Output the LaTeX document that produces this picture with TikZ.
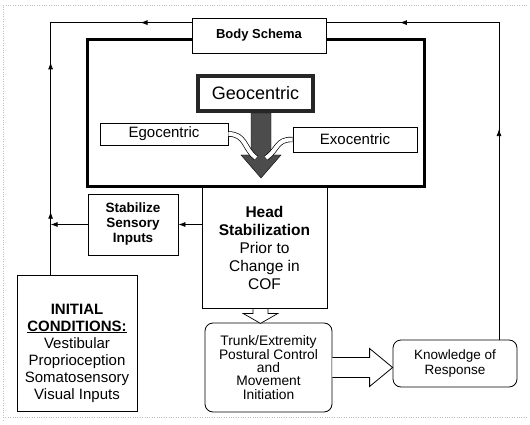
\documentclass[tikz,border=0pt]{standalone}
\usepackage{fontspec}
\setmainfont{Liberation Sans}
\usetikzlibrary{arrows.meta,calc,decorations.markings}

\begin{document}
\begin{tikzpicture}[x=1pt,y=-1pt,
    box/.style={draw, fill=white, line width=0.8pt, align=center, inner sep=0pt},
    roundbox/.style={box, rounded corners=8pt},
    flow/.style={line width=0.8pt},
    tip/.style={-{Latex[length=7pt,width=5pt]}, line width=0.8pt}]
    \useasboundingbox (0,0) rectangle (530,425);

    % Scan frame
    \draw[gray!50, dotted] (3,420) -- (3,5) -- (528,5);
    \draw[gray!50, dotted] (3,417) -- (528,417);

    % Thick frame round the reference frames
    \draw[line width=3pt] (87.5,39.5) rectangle (424.5,186.5);

    % Boxes
    \node[box, minimum width=134pt, minimum height=35pt,
          font=\bfseries\fontsize{13}{15}\selectfont] (body) at (259,35.5) {Body Schema};
    \node[box, minimum width=128pt, minimum height=22pt,
          font=\fontsize{15}{18}\selectfont] (ego) at (164,134) {Egocentric};
    \node[box, minimum width=124pt, minimum height=25pt,
          font=\fontsize{15}{18}\selectfont] (exo) at (355,139.5) {Exocentric};

    % Big down arrow under Geocentric
    \coordinate (gtop) at (251,113);
    \draw[fill=black!70] (gtop) -- ++(20,0) -- ++(0,42) -- ++(10,0) -- ++(-20,23)
        -- ++(-20,-23) -- ++(10,0) -- cycle;

    % Curved arrows joining the big arrow
    \draw[double=white, double distance=4pt, line width=0.7pt]
        (ego.east) .. controls (246,134) and (244,149) .. (256,158);
    \draw[double=white, double distance=4pt, line width=0.7pt]
        (exo.west) .. controls (276,139) and (278,150) .. (266,158);

    \node[box, draw=black!85, line width=4pt, minimum width=115pt, minimum height=35pt,
          font=\fontsize{18}{21}\selectfont] (geo) at (255.5,93.5) {Geocentric};

    \node[box, minimum width=125pt, minimum height=121pt,
          font=\fontsize{15.5}{18}\selectfont] (head) at (264.5,247.5)
          {\textbf{Head}\\\textbf{Stabilization}\\Prior to\\Change in\\COF};
    \node[box, minimum width=90pt, minimum height=61pt,
          font=\bfseries\fontsize{13.5}{15}\selectfont] (stab) at (133,224.5)
          {Stabilize\\Sensory\\Inputs};
    \node[box, minimum width=120pt, minimum height=136pt] (init) at (77,343) {};
    \node[align=center, inner sep=0pt, font=\fontsize{15}{17}\selectfont] (initText)
          at (77,353) {\textbf{INITIAL}\\\textbf{\underline{CONDITIONS:}}\\Vestibular\\Proprioception\\Somatosensory\\Visual Inputs};
    \node[roundbox, minimum width=127pt, minimum height=89pt,
          font=\fontsize{13.8}{13.4}\selectfont] (trunk) at (268.5,367.5)
          {Trunk/Extremity\\Postural Control\\and\\Movement\\Initiation};
    \node[roundbox, minimum width=124pt, minimum height=47pt,
          font=\fontsize{13.5}{15}\selectfont] (know) at (455,363.5)
          {Knowledge of\\Response};

    % Hollow arrow from Head to Trunk
    \draw[fill=white, line width=0.7pt] ($(head.south)+(-11.5,0)$) -- ++(15,0) -- ++(0,5)
        -- ++(10,0) -- ++(-17.5,10) -- ++(-17.5,-10) -- ++(10,0) -- cycle;

    % Hollow arrow from Trunk to Knowledge
    \coordinate (ktip) at (know.west |- trunk.east);
    \draw[fill=white, line width=0.8pt] ($(trunk.east)+(0,-10)$) -- ($(ktip)+(-23,-10)$)
        -- ($(ktip)+(-23,-19)$) -- (ktip) -- ($(ktip)+(-23,19)$)
        -- ($(ktip)+(-23,10)$) -- ($(trunk.east)+(0,10)$);

    % Left loop up to Body Schema
    \coordinate (lbot) at ($(init.north west)+(34,0)$);
    \coordinate (bl) at ($(body.north west)+(0,5)$);
    \draw[flow, postaction={decorate}, decoration={markings,
        mark=at position 0.16 with {\arrow{Latex[length=7pt,width=5pt]}},
        mark=at position 0.54 with {\arrow{Latex[length=7pt,width=5pt]}},
        mark=at position 0.87 with {\arrowreversed{Latex[length=7pt,width=5pt]}}}]
        (lbot) |- (bl);

    % Right loop up to Body Schema
    \coordinate (kbot) at ($(know.north)+(44,0)$);
    \coordinate (br) at ($(body.north east)+(0,5)$);
    \draw[flow, postaction={decorate}, decoration={markings,
        mark=at position 0.43 with {\arrow{Latex[length=7pt,width=5pt]}},
        mark=at position 0.85 with {\arrow{Latex[length=7pt,width=5pt]}}}]
        (kbot) |- (br);

    % Stabilize arrows
    \draw[tip] (head.west |- stab.east) -- (stab.east);
    \draw[tip] (stab.west) -- (stab.west -| lbot);

\end{tikzpicture}
\end{document}
